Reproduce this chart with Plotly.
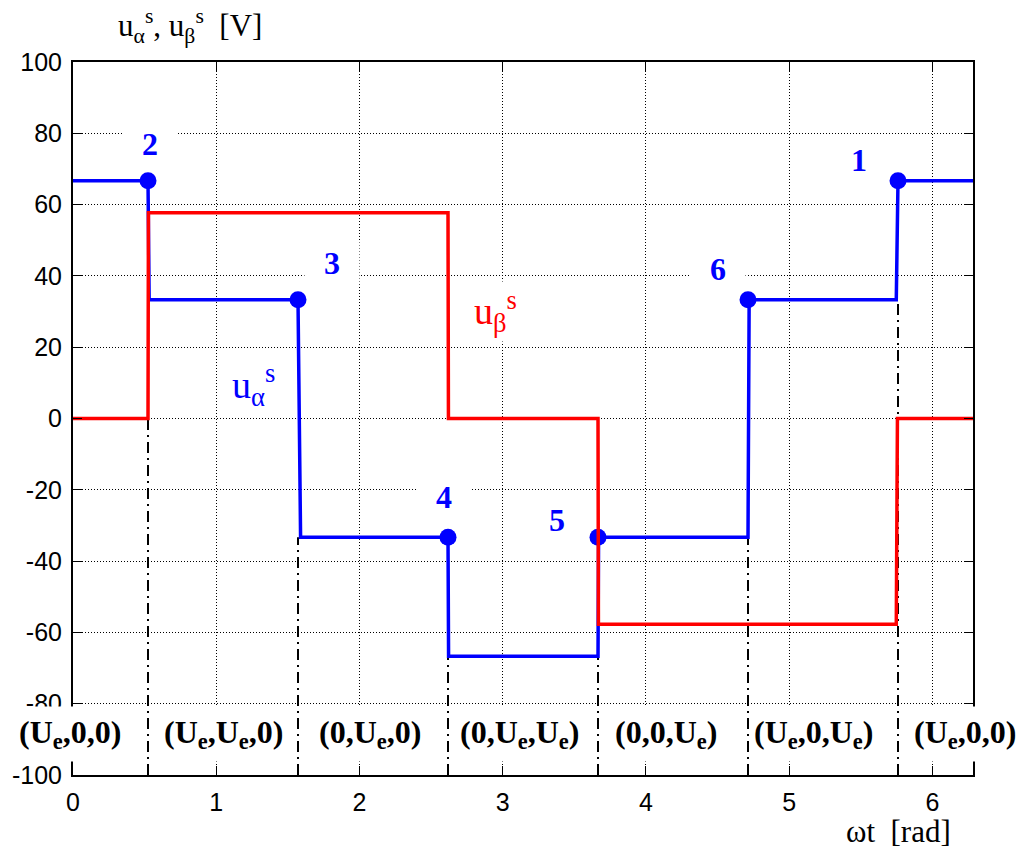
import math
import plotly.graph_objects as go

PI = math.pi

# Stator voltage components over one electrical period (six-step inverter)
ua_t = [0.0, PI/6, PI/6 + 0.008, PI/2, PI/2 + 0.018, 5*PI/6, 5*PI/6 + 0.004,
        7*PI/6, 7*PI/6 + 0.004, 3*PI/2, 3*PI/2 + 0.008, 11*PI/6 - 0.012, 11*PI/6, 2*PI]
ua_v = [66.67, 66.67, 33.33, 33.33, -33.33, -33.33, -66.67,
        -66.67, -33.33, -33.33, 33.33, 33.33, 66.67, 66.67]

ub_t = [0.0, PI/6, PI/6 + 0.003, 5*PI/6, 5*PI/6 + 0.003, 7*PI/6, 7*PI/6 + 0.003,
        11*PI/6 - 0.012, 11*PI/6 - 0.004, 2*PI]
ub_v = [0.0, 0.0, 57.74, 57.74, 0.0, 0.0, -57.74, -57.74, 0.0, 0.0]

# Switching instants, the voltage-vector numbers and the level the marker sits on
sw_t = [PI/6, PI/2, 5*PI/6, 7*PI/6, 3*PI/2, 11*PI/6]
sw_num = ["2", "3", "4", "5", "6", "1"]
sw_mark = [66.67, 33.33, -33.33, -33.33, 33.33, 66.67]
sw_low = [33.33, -33.33, -66.67, -66.67, -33.33, 33.33]
num_x = [0.54, 1.81, 2.59, 3.38, 4.50, 5.49]
num_y = [77.0, 43.5, -22.0, -28.6, 42.0, 72.5]

# Inverter switch states in each sector
state_x = [-0.02, 1.053, 2.07, 3.115, 4.14, 5.17, 6.23]
state_txt = ["(U<sub>e</sub>,0,0)", "(U<sub>e</sub>,U<sub>e</sub>,0)", "(0,U<sub>e</sub>,0)",
             "(0,U<sub>e</sub>,U<sub>e</sub>)", "(0,0,U<sub>e</sub>)",
             "(U<sub>e</sub>,0,U<sub>e</sub>)", "(U<sub>e</sub>,0,0)"]
state_y = -88.6

x_ticks = [0, 1, 2, 3, 4, 5, 6]
y_ticks = [100, 80, 60, 40, 20, 0, -20, -40, -60, -80, -100]

X_MAX = 2*PI
Y_MIN, Y_MAX = -100, 100

BLUE = "#0000ff"
RED = "#ff0000"
SERIF = "Liberation Serif, Times New Roman, serif"
SANS = "Liberation Sans, Arial, sans-serif"

fig = go.Figure()

# dash-dot markers of the switching instants
vx, vy = [], []
for t, lo in zip(sw_t, sw_low):
    vx += [t, t, None]
    vy += [Y_MIN, lo, None]
fig.add_trace(go.Scatter(x=vx, y=vy, mode="lines",
                         line=dict(color="black", width=2, dash="11px,5px,2px,5px"),
                         hoverinfo="skip", showlegend=False))

fig.add_trace(go.Scatter(x=ua_t, y=ua_v, mode="lines",
                         line=dict(color=BLUE, width=3.5), showlegend=False))
fig.add_trace(go.Scatter(x=sw_t, y=sw_mark, mode="markers",
                         marker=dict(color=BLUE, size=17), showlegend=False))
fig.add_trace(go.Scatter(x=ub_t, y=ub_v, mode="lines",
                         line=dict(color=RED, width=3.5), showlegend=False))

ann = []
for x, y, s in zip(num_x, num_y, sw_num):
    ann.append(dict(x=x, y=y, xref="x", yref="y", text="<b>" + s + "</b>",
                    showarrow=False, bgcolor="white", width=52, height=40,
                    font=dict(family=SERIF, size=32, color=BLUE)))

# sector labels use domain coordinates so the first one may sit left of x=0
for x, s in zip(state_x, state_txt):
    ann.append(dict(x=x / X_MAX, y=(state_y - Y_MIN) / (Y_MAX - Y_MIN),
                    xref="x domain", yref="y domain", xanchor="center", yanchor="middle",
                    text="<b>" + s + "</b>",
                    showarrow=False, bgcolor="white", height=52, borderpad=1,
                    font=dict(family=SERIF, size=32, color="black")))

ann.append(dict(x=1.26, y=9.3, xref="x", yref="y",
                text="u<sub>α</sub><sup>s</sup>", showarrow=False, bgcolor="white",
                font=dict(family=SERIF, size=38, color=BLUE)))
ann.append(dict(x=2.95, y=30.0, xref="x", yref="y",
                text="u<sub>β</sub><sup>s</sup>", showarrow=False, bgcolor="white",
                height=57,
                font=dict(family=SERIF, size=38, color=RED)))

L, R, T, B = 69, 57, 62, 74
W, H = 1030, 849
pw, ph = W - L - R, H - T - B

# axis titles placed by pixel position (from the top-left of the page)
titles = [("u<sub>α</sub><sup>s</sup>, u<sub>β</sub><sup>s</sup>  [V]", 187, 26),
          ("ωt  [rad]", 898, 831)]
for txt, px, py in titles:
    ann.append(dict(x=(px - L) / pw, y=(H - py - B) / ph,
                    xref="x domain", yref="y domain", xanchor="center", yanchor="middle",
                    text=txt, showarrow=False,
                    font=dict(family=SERIF, size=31, color="black")))

fig.update_layout(
    width=W, height=H,
    margin=dict(l=L, r=R, t=T, b=B, pad=0),
    paper_bgcolor="white", plot_bgcolor="white",
    annotations=ann,
    showlegend=False,
)
fig.update_xaxes(range=[0, X_MAX], tickvals=x_ticks, ticktext=[str(v) for v in x_ticks],
                 showgrid=True, gridcolor="black", gridwidth=1, griddash="1px,2px",
                 zeroline=False, showline=True, linecolor="black", linewidth=2,
                 mirror="ticks", ticks="inside", ticklen=9, tickwidth=1, tickcolor="black",
                 ticklabelstandoff=4,
                 tickfont=dict(family=SANS, size=25, color="black"))
fig.update_yaxes(range=[Y_MIN, Y_MAX], tickvals=y_ticks, ticktext=[str(v) for v in y_ticks],
                 showgrid=True, gridcolor="black", gridwidth=1, griddash="1px,2px",
                 zeroline=False, showline=True, linecolor="black", linewidth=2,
                 mirror="ticks", ticks="inside", ticklen=9, tickwidth=1, tickcolor="black",
                 ticklabelstandoff=4,
                 tickfont=dict(family=SANS, size=25, color="black"))

fig.write_html("out.html")
